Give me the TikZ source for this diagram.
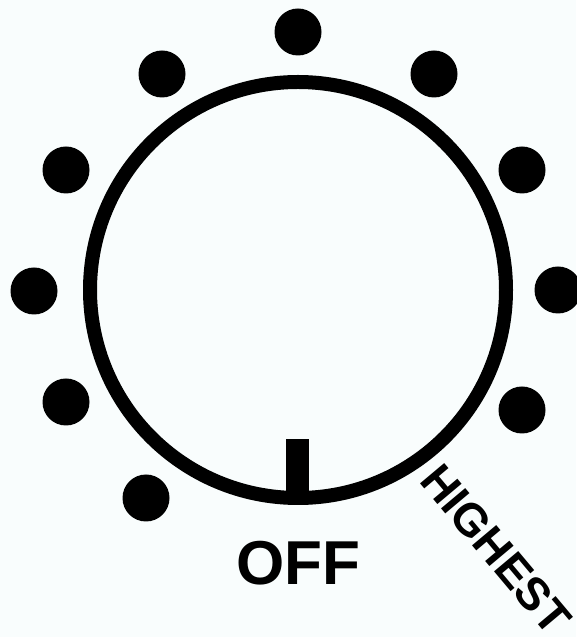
\documentclass[tikz,border=0pt]{standalone}
\usepackage{fontspec}
\setmainfont{Liberation Sans}
\usetikzlibrary{positioning}
\definecolor{knobbg}{HTML}{F9FDFD}

\begin{document}
\begin{tikzpicture}[x=1pt,y=1pt,
  dial/.style={draw=black,line width=14pt},
  dot/.style={circle,fill=black,minimum size=47pt,inner sep=0pt},
  lbl/.style={font=\bfseries\fontsize{62}{62}\selectfont,inner sep=0pt}]
\fill[knobbg] (0,0) rectangle (576,637);
\useasboundingbox (0,0) rectangle (576,637);
\coordinate (c) at (298,347);
\draw[dial] (c) circle[radius=208];
% setting marks round the knob
\foreach \p/\n in {{298,605}/m1,{162,563}/m2,{434,563}/m3,{66,467}/m4,{522,467}/m5,
  {34,346}/m6,{558,347}/m7,{66,235}/m8,{522,227}/m9,{146,139}/m10}
  \node[dot] (\n) at (\p) {};
\fill (286,140) rectangle (309,198);
\node[lbl,anchor=base] (off) at (298,52) {OFF};
\node[lbl,font=\bfseries\fontsize{46}{46}\selectfont,rotate=-50,anchor=base west]
  (highest) at (418,156) {HIGHEST};
\end{tikzpicture}
\end{document}
